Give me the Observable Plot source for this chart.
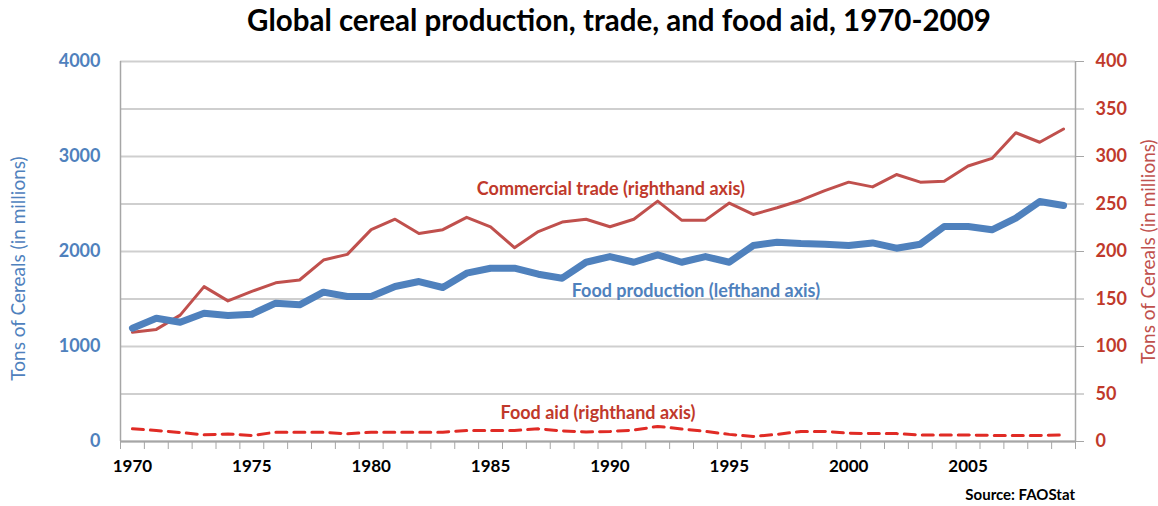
<!DOCTYPE html>
<html><head><meta charset="utf-8">
<script src="https://cdn.jsdelivr.net/npm/d3@7"></script>
<script src="https://cdn.jsdelivr.net/npm/@observablehq/plot@0.6"></script>
<style>
body{margin:0;background:#fff;font-family:Lato,sans-serif;}
#title{height:42px;line-height:40px;text-align:center;font-weight:bold;font-size:29.5px;color:#000;padding-left:80px;width:1078px;}
#source{height:24px;width:1075px;text-align:right;font-weight:bold;font-size:15px;line-height:24px;color:#000;}
</style></head><body>
<div id="title">Global cereal production, trade, and food aid, 1970-2009</div>
<div id="chart"></div>
<div id="source">Source: FAOStat</div>
<script>
const years = [1970,1971,1972,1973,1974,1975,1976,1977,1978,1979,
  1980,1981,1982,1983,1984,1985,1986,1987,1988,1989,
  1990,1991,1992,1993,1994,1995,1996,1997,1998,1999,
  2000,2001,2002,2003,2004,2005,2006,2007,2008,2009];
// Food production, millions of tons (left axis)
const production = [1193,1298,1256,1351,1326,1340,1456,1439,1572,1526,
  1526,1632,1684,1621,1772,1824,1825,1761,1719,1887,
  1947,1887,1965,1887,1947,1887,2063,2098,2084,2077,
  2063,2090,2035,2077,2263,2263,2228,2351,2526,2484];
// Commercial trade, millions of tons (right axis)
const trade = [115,118,133,163,148,158,167,170,191,197,
  223,234,219,223,236,226,204,221,231,234,
  226,234,253,233,233,251,239,246,254,264,
  273,268,281,273,274,290,298,325,315,329];
// Food aid, millions of tons (right axis)
const aid = [13.3,11.6,9.5,7.0,8.0,6.3,9.8,9.8,9.8,8.0,
  9.8,9.8,9.8,9.8,11.6,11.6,11.6,13.3,11.2,10.0,
  10.6,12.0,15.9,13.2,10.6,7.5,5.3,7.5,10.6,10.6,
  8.7,8.3,8.3,6.8,6.8,6.8,6.4,6.4,6.4,6.8];
const leftTicks = [0,1000,2000,3000,4000];
const rightTicks = [0,50,100,150,200,250,300,350,400];
const xLabels = [1970,1975,1980,1985,1990,1995,2000,2005];

const RATIO = 10; // right axis units -> left axis units
const rows = years.map((year,i)=>({year, production: production[i], trade: trade[i], aid: aid[i]}));
const bounds = years.map(y=>y-0.5).concat([years[years.length-1]+0.5]);

const BLUE = "#4f81bd", RED = "#c0392b", GRAY = "#a6a6a6";

const chart = Plot.plot({
  width: 1158, height: 440,
  marginLeft: 120, marginRight: 83, marginTop: 19, marginBottom: 41,
  style: {fontFamily: "Lato, sans-serif", background: "#fff"},
  x: {type: "linear", domain: [bounds[0], bounds[bounds.length-1]]},
  y: {domain: [0, 4000]},
  marks: [
    Plot.gridY({ticks: rightTicks.map(v=>v*RATIO), stroke: "#cfcfcf", strokeOpacity: 1, strokeWidth: 2}),
    Plot.ruleX([bounds[0], bounds[bounds.length-1]], {stroke: GRAY, strokeWidth: 1.5}),
    Plot.ruleY([0], {stroke: GRAY, strokeWidth: 2}),
    Plot.axisY({anchor: "left", ticks: leftTicks, tickSize: 0, tickPadding: 20, label: null,
      tickFormat: d => String(d), color: BLUE, fontSize: 18, fontWeight: "bold"}),
    Plot.axisY({anchor: "right", ticks: rightTicks.map(v=>v*RATIO), tickSize: 8, tickFormat: () => "",
      label: null, color: GRAY}),
    Plot.axisY({anchor: "right", ticks: rightTicks.map(v=>v*RATIO), tickSize: 0, tickPadding: 20,
      tickFormat: d => String(d/RATIO), label: null, color: RED, fontSize: 18, fontWeight: "bold"}),
    Plot.axisX({ticks: bounds, tickSize: 8, tickFormat: () => "", label: null, color: GRAY}),
    Plot.axisX({ticks: xLabels, tickSize: 0, tickPadding: 18, tickFormat: d => String(d), label: null,
      color: "#000", fontSize: 17, fontWeight: "bold"}),
    Plot.text(["Tons of Cereals (in millions)"], {frameAnchor: "left", dx: -102, dy: 17, rotate: -90,
      textAnchor: "middle", fill: BLUE, fontSize: 19}),
    Plot.text(["Tons of Cereals (in millions)"], {frameAnchor: "right", dx: 73, rotate: -90,
      textAnchor: "middle", fill: "#c0504d", fontSize: 19}),
    Plot.line(rows, {x: "year", y: d => d.aid*RATIO, stroke: "#e02b25", strokeWidth: 3, strokeDasharray: "11,7"}),
    Plot.line(rows, {x: "year", y: d => d.trade*RATIO, stroke: "#c0504d", strokeWidth: 3}),
    Plot.line(rows, {x: "year", y: "production", stroke: BLUE, strokeWidth: 7}),
    Plot.text([{x: 1990.04, y: 2660, t: "Commercial trade (righthand axis)"}], {x: "x", y: "y", text: "t",
      fill: RED, fontSize: 18, fontWeight: "bold"}),
    Plot.text([{x: 1993.6, y: 1579, t: "Food production (lefthand axis)"}], {x: "x", y: "y", text: "t",
      fill: BLUE, fontSize: 18, fontWeight: "bold"}),
    Plot.text([{x: 1989.5, y: 295, t: "Food aid (righthand axis)"}], {x: "x", y: "y", text: "t",
      fill: RED, fontSize: 18, fontWeight: "bold"})
  ]
});
document.getElementById("chart").appendChild(chart);
</script></body></html>
